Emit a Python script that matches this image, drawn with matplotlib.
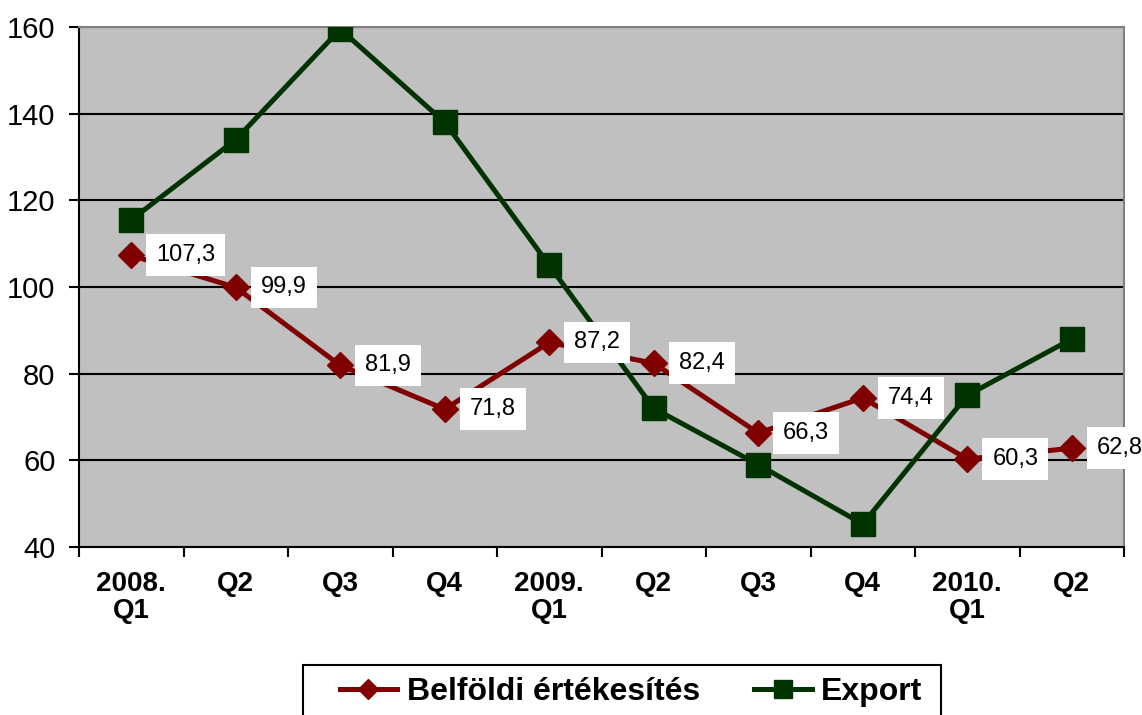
import matplotlib
matplotlib.use("Agg")
import matplotlib.pyplot as plt
from matplotlib.patches import Rectangle

categories = ["2008.\nQ1", "Q2", "Q3", "Q4", "2009.\nQ1", "Q2", "Q3", "Q4", "2010.\nQ1", "Q2"]
belfoldi = [107.3, 99.9, 81.9, 71.8, 87.2, 82.4, 66.3, 74.4, 60.3, 62.8]
export = [115.5, 134.0, 159.5, 138.0, 105.0, 72.0, 59.0, 45.3, 75.0, 88.0]

RED = "#800000"
GREEN = "#003300"

plt.rcParams["font.family"] = ["Liberation Sans", "DejaVu Sans"]

fig = plt.figure(figsize=(11.42, 7.15), dpi=100)
ax = fig.add_axes([79 / 1142, 168 / 715, (1124 - 79) / 1142, (547 - 27) / 715])
ax.set_facecolor("#c0c0c0")

x = list(range(len(categories)))
ax.plot(x, belfoldi, color=RED, lw=3.6, marker="D", ms=13, mec=RED, mfc=RED,
        label="Belföldi értékesítés", zorder=3)
ax.plot(x, export, color=GREEN, lw=3.6, marker="s", ms=17, mec=GREEN, mfc=GREEN,
        label="Export", zorder=4)

for xi, v in zip(x, belfoldi):
    ax.annotate(f"{v:.1f}".replace(".", ","), (xi, v), xytext=(18, 0),
                textcoords="offset points", ha="left", va="center", fontsize=17,
                bbox=dict(boxstyle="square,pad=0.42", fc="white", ec="none"),
                zorder=5, annotation_clip=False)

ax.set_xlim(-0.5, len(categories) - 0.5)
ax.set_ylim(40, 160)
ax.set_yticks(range(40, 161, 20))
ax.yaxis.grid(True, color="black", lw=1.5)
ax.set_axisbelow(True)

ax.set_xticks(x)
ax.set_xticklabels(categories, fontsize=20, fontweight="bold", linespacing=1.05)
ax.tick_params(axis="x", which="major", length=0, pad=17)
ax.set_xticks([i - 0.5 for i in range(len(categories) + 1)], minor=True)
ax.tick_params(axis="x", which="minor", length=7, width=1.5, color="black")
ax.tick_params(axis="y", labelsize=21, length=7, width=1.5, pad=10)

for s in ("left", "bottom"):
    ax.spines[s].set_color("black")
    ax.spines[s].set_linewidth(1.5)
for s in ("top", "right"):
    ax.spines[s].set_color("#808080")
    ax.spines[s].set_linewidth(1.5)

# legend box runs off the bottom edge like in the original
fig.patches.append(Rectangle((303 / 1142, -0.02), (941 - 303) / 1142, 0.02 + 50 / 715,
                             transform=fig.transFigure, fill=False, ec="black", lw=1.5))
fig.legend(loc="center", bbox_to_anchor=(631 / 1142, 23 / 715), ncol=2,
           frameon=False, prop={"weight": "bold", "size": 23}, markerscale=0.75,
           handlelength=1.8, handletextpad=0.3, columnspacing=1.7,
           borderpad=0, borderaxespad=0)

plt.savefig("out.png", dpi=100)
plt.close(fig)
